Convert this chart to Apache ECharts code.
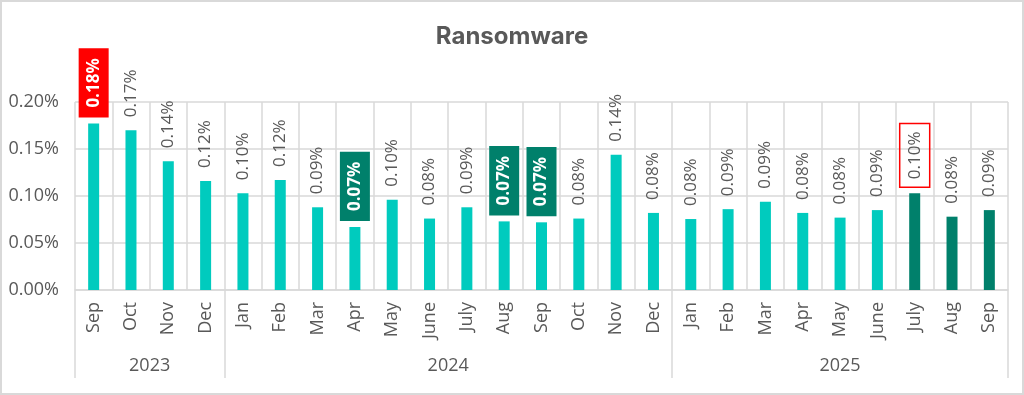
<!DOCTYPE html>
<html>
<head>
<meta charset="utf-8">
<script src="https://cdn.jsdelivr.net/npm/echarts@6/dist/echarts.min.js"></script>
<style>
  html, body { margin: 0; padding: 0; background: #fff; }
  #wrap { position: relative; width: 1024px; height: 395px; }
  #chart { width: 1024px; height: 395px; }
  #frame { position: absolute; left: 0; top: 0; width: 1020px; height: 391px; border: 2px solid #d9d9d9; pointer-events: none; }
</style>
</head>
<body>
<div id="wrap"><div id="chart"></div><div id="frame"></div></div>
<script>
// ---- data ----
const months = ['Sep','Oct','Nov','Dec',
  'Jan','Feb','Mar','Apr','May','June','July','Aug','Sep','Oct','Nov','Dec',
  'Jan','Feb','Mar','Apr','May','June','July','Aug','Sep'];
const years = ['2023','2024','2025'];
const yearCounts = [4, 12, 9];
// values in percent
const values = [0.177, 0.170, 0.137, 0.116,
  0.103, 0.117, 0.088, 0.067, 0.096, 0.076, 0.088, 0.073, 0.072, 0.076, 0.144, 0.082,
  0.0755, 0.086, 0.094, 0.082, 0.077, 0.085, 0.103, 0.078, 0.085];
const yTicks = [0, 0.05, 0.10, 0.15, 0.20];
// highlight indices
const redLabelIdx = [0];
const greenLabelIdx = [7, 11, 12];
const outlinedLabelIdx = [22];
const darkBarIdx = [22, 23, 24];

// ---- styles ----
const TEAL = '#00CBBE', DARK = '#00806B', RED = '#FF0000', GRID = '#d9d9d9', TXT = '#595959';
const FONT = "'Open Sans', sans-serif";

// year boundaries
const bounds = [0];
yearCounts.forEach(c => bounds.push(bounds[bounds.length - 1] + c));
const yearCenters = years.map((y, i) => (bounds[i] + bounds[i + 1]) / 2);

const data = values.map((v, i) => {
  const item = { value: v, itemStyle: { color: darkBarIdx.includes(i) ? DARK : TEAL } };
  if (redLabelIdx.includes(i) || greenLabelIdx.includes(i)) {
    item.label = {
      color: '#fff', fontWeight: 'bold', fontSize: 17,
      backgroundColor: redLabelIdx.includes(i) ? RED : DARK,
      padding: [5, 10, 5, 10], lineHeight: 20, distance: 6
    };
  } else if (outlinedLabelIdx.includes(i)) {
    item.label = {
      borderColor: RED, borderWidth: 1.5,
      padding: [5, 8, 5, 8], lineHeight: 20, distance: 6
    };
  }
  return item;
});

const chart = echarts.init(document.getElementById('chart'), null, { renderer: 'canvas' });
chart.setOption({
  animation: false,
  backgroundColor: '#fff',
  textStyle: { fontFamily: FONT },
  title: {
    text: 'Ransomware', left: 507, textAlign: 'center', top: 20,
    textStyle: { fontFamily: 'Inter, sans-serif', fontSize: 24, fontWeight: 'bold', color: TXT }
  },
  grid: { left: 75, right: 16, top: 102, bottom: 105, containLabel: false },
  xAxis: [
    {
      type: 'category', data: months, boundaryGap: true,
      axisLine: { show: true, lineStyle: { color: GRID, width: 1.5 } },
      axisTick: { show: false },
      splitLine: { show: true, interval: 0, lineStyle: { color: GRID, width: 1.5 } },
      axisLabel: { interval: 0, rotate: 90, margin: 12, fontSize: 18, color: TXT, fontFamily: FONT }
    },
    {
      type: 'value', min: 0, max: bounds[bounds.length - 1], position: 'bottom',
      axisLine: { show: false },
      splitLine: { show: false },
      axisTick: { show: true, customValues: bounds, length: 88, lineStyle: { color: GRID, width: 1.5 } },
      axisLabel: {
        customValues: yearCenters, margin: 67, fontSize: 18, color: TXT, fontFamily: FONT,
        formatter: v => { const i = yearCenters.indexOf(v); return i >= 0 ? years[i] : ''; }
      }
    }
  ],
  yAxis: {
    type: 'value', min: yTicks[0], max: yTicks[yTicks.length - 1], interval: 0.05,
    axisLine: { show: false }, axisTick: { show: false },
    splitLine: { show: true, lineStyle: { color: GRID, width: 1.5 } },
    axisLabel: { margin: 16, fontSize: 18, color: TXT, fontFamily: FONT,
      formatter: v => v.toFixed(2) + '%' }
  },
  series: [{
    type: 'bar', xAxisIndex: 0, data: data, barWidth: 11,
    label: {
      show: true, position: 'top', rotate: 90, align: 'left', verticalAlign: 'middle',
      distance: 13, fontSize: 17, color: TXT, fontFamily: FONT,
      formatter: p => p.value.toFixed(2) + '%'
    }
  }]
});
</script>
</body>
</html>
